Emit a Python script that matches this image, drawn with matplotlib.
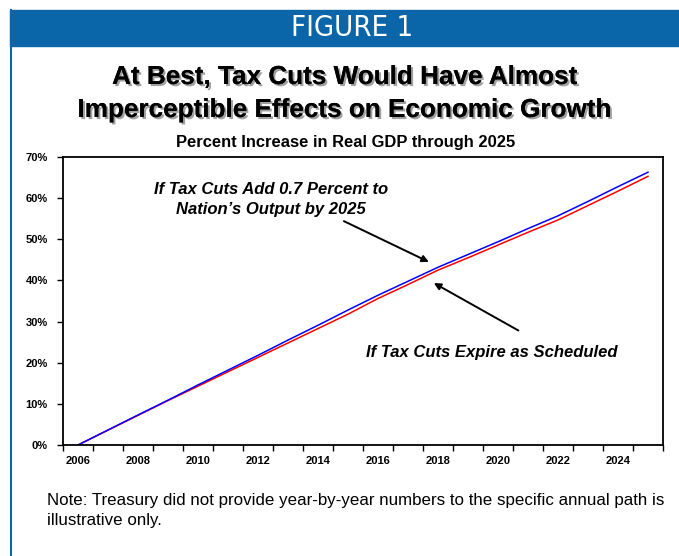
import matplotlib
matplotlib.use("Agg")
import matplotlib.pyplot as plt
import matplotlib.patheffects as pe
from matplotlib.patches import Rectangle

# data (percent increase in real GDP since 2006)
years = list(range(2006, 2026))
with_cuts = [0, 3.65, 7.3, 10.9, 14.6, 18.2, 21.8, 25.5, 29.1, 32.8,
             36.4, 39.8, 43.2, 46.3, 49.4, 52.6, 55.7, 59.2, 62.8, 66.3]
cuts_expire = [0, 3.6, 7.2, 10.8, 14.3, 17.8, 21.3, 24.8, 28.3, 31.8,
               35.6, 39.0, 42.5, 45.5, 48.6, 51.7, 54.7, 58.2, 61.7, 65.3]
year_labels = [str(y) for y in range(2006, 2025, 2)]
pct_ticks = list(range(0, 71, 10))

blue = "#0A66A8"
plt.rcParams["font.family"] = ["Liberation Sans", "DejaVu Sans"]

fig = plt.figure(figsize=(6.79, 5.56), dpi=100)

# header band + left border
fig.patches.append(Rectangle((10 / 679, 1 - 46 / 556), 1, 36 / 556,
                             transform=fig.transFigure, color=blue, zorder=0))
fig.add_artist(plt.Line2D([11 / 679, 11 / 679], [0, 1 - 10 / 556],
                          transform=fig.transFigure, color=blue, lw=1.5))
fig.text(0.519, 1 - 28 / 556, "FIGURE 1", color="white", fontsize=21,
         family="DejaVu Sans", fontstretch="condensed", weight="medium",
         ha="center", va="center")

shadow = [pe.withSimplePatchShadow(offset=(1.5, -1.5), shadow_rgbFace="#888888", alpha=0.8), pe.Normal()]
fig.text(0.508, 1 - 77 / 556, "At Best, Tax Cuts Would Have Almost",
         fontsize=18.8, weight="bold", ha="center", va="center", path_effects=shadow)
fig.text(0.508, 1 - 110 / 556, "Imperceptible Effects on Economic Growth",
         fontsize=18.8, weight="bold", ha="center", va="center", path_effects=shadow)
fig.text(0.509, 1 - 143 / 556, "Percent Increase in Real GDP through 2025",
         fontsize=11.9, weight="bold", ha="center", va="center")

ax = fig.add_axes([63 / 679, 1 - 445 / 556, 600 / 679, 288 / 556])
ax.plot(years, cuts_expire, color="red", lw=1.1)
ax.plot(years, with_cuts, color="blue", lw=1.1)

ax.set_xlim(2005.5, 2025.5)
ax.set_ylim(0, 70)
ax.set_yticks(pct_ticks)
ax.set_yticklabels([f"{p}%" for p in pct_ticks], fontsize=8, weight="bold")
ax.set_xticks([int(s) for s in year_labels])
ax.set_xticklabels(year_labels, fontsize=8, weight="bold")
ax.tick_params(axis="x", length=0, pad=8)
ax.set_xticks([y + 0.5 for y in range(2005, 2026)], minor=True)
ax.tick_params(axis="x", which="minor", length=4, width=1)
ax.tick_params(axis="y", length=4, width=1, pad=7)
for s in ax.spines.values():
    s.set_linewidth(1.3)

arrow = dict(arrowstyle="-|>", color="black", lw=1.4, mutation_scale=10)
ax.annotate("", xy=(2017.78, 44.2), xytext=(2014.78, 54.7), arrowprops=arrow)
ax.annotate("", xy=(2017.78, 39.7), xytext=(2020.76, 27.5), arrowprops=arrow)
ax.text(2012.44, 59.6, "If Tax Cuts Add 0.7 Percent to\nNation\u2019s Output by 2025",
        fontsize=12, weight="bold", style="italic", ha="center", va="center", linespacing=1.4)
ax.text(2019.79, 22.6, "If Tax Cuts Expire as Scheduled",
        fontsize=12, weight="bold", style="italic", ha="center", va="center")

fig.text(47 / 679, 1 - 510.5 / 556,
         "Note: Treasury did not provide year-by-year numbers to the specific annual path is\nillustrative only.",
         fontsize=12.2, ha="left", va="center", linespacing=1.45)

fig.savefig("out.png", dpi=100)
